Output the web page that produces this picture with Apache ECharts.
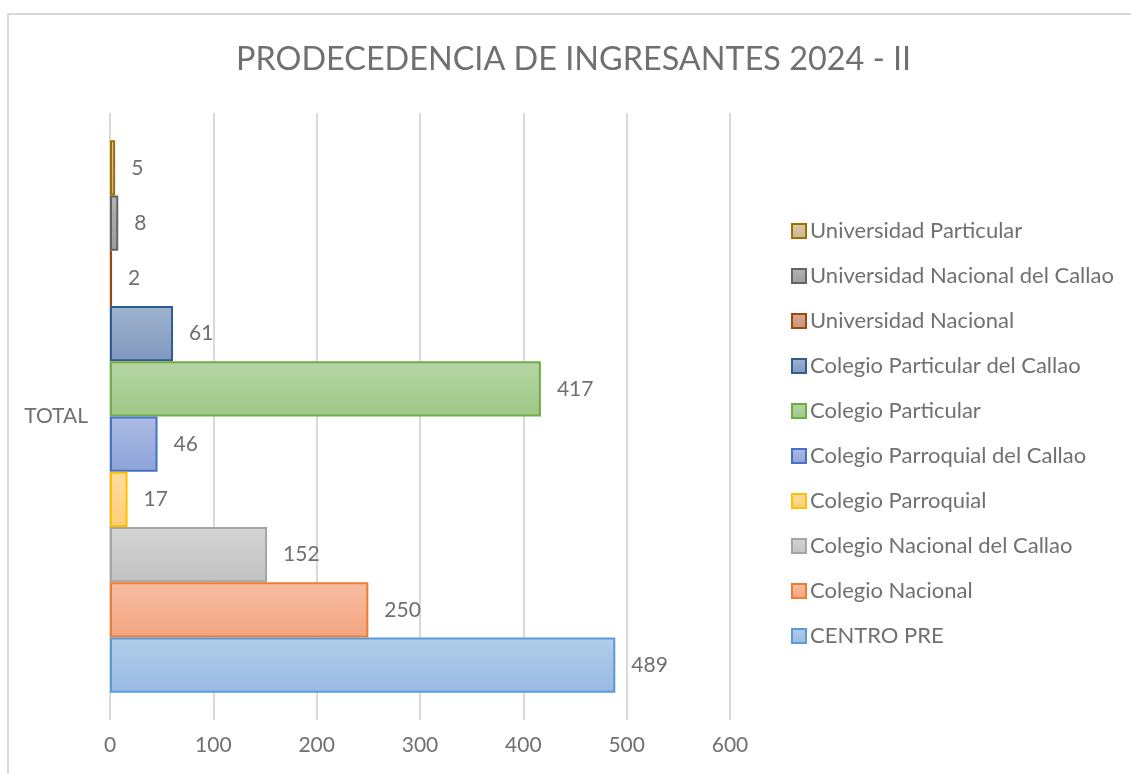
<!DOCTYPE html>
<html>
<head>
<meta charset="utf-8">
<script src="https://cdn.jsdelivr.net/npm/echarts@6/dist/echarts.min.js"></script>
<style>
html,body{margin:0;padding:0;background:#fff;}
#chart{width:1131px;height:774px;}
</style>
</head>
<body>
<div id="chart"></div>
<script>
// Data (top-to-bottom order as drawn)
const categories = ['TOTAL'];
const seriesNames = [
  'Universidad Particular',
  'Universidad Nacional del Callao',
  'Universidad Nacional',
  'Colegio Particular del Callao',
  'Colegio Particular',
  'Colegio Parroquial del Callao',
  'Colegio Parroquial',
  'Colegio Nacional del Callao',
  'Colegio Nacional',
  'CENTRO PRE'
];
const seriesValues = [5, 8, 2, 61, 417, 46, 17, 152, 250, 489];
const xTicks = [0, 100, 200, 300, 400, 500, 600];

// Styles
const fills = [
  ['#dcc8ae', '#cfb48f'],
  ['#b4b4b4', '#9c9c9c'],
  ['#d8a890', '#c99578'],
  ['#a0b3cf', '#7f98bd'],
  ['#b6d6a4', '#9ec786'],
  ['#acbbe4', '#8ea3da'],
  ['#ffdc9e', '#ffcf78'],
  ['#d4d4d4', '#c2c2c2'],
  ['#f6bea4', '#f4a480'],
  ['#b3cdea', '#98bae3']
];
const borders = ['#997300', '#636363', '#9e480e', '#2e5e91', '#70ad47', '#4472c4', '#ffc000', '#a5a5a5', '#ed7d31', '#5b9bd5'];
const textColor = '#707070';
const fontFam = 'Lato, "Open Sans", sans-serif';

const chart = echarts.init(document.getElementById('chart'));
const series = seriesNames.map((name, i) => ({
  name: name,
  type: 'bar',
  data: [seriesValues[i]],
  barGap: '0%',
  barCategoryGap: '9%',
  itemStyle: {
    color: {type: 'linear', x: 0, y: 0, x2: 0, y2: 1,
      colorStops: [{offset: 0, color: fills[i][0]}, {offset: 1, color: fills[i][1]}]},
    borderColor: borders[i],
    borderWidth: 2
  },
  label: {
    show: true,
    position: 'right',
    distance: 16,
    color: textColor,
    fontSize: 21,
    fontFamily: fontFam
  },
  emphasis: {disabled: true}
}));

chart.setOption({
  animation: false,
  backgroundColor: '#fff',
  graphic: [{
    type: 'rect',
    shape: {x: 8, y: 14, width: 1300, height: 900},
    style: {fill: 'none', stroke: '#d9d9d9', lineWidth: 2},
    silent: true
  }],
  title: {
    text: 'PRODECEDENCIA DE INGRESANTES 2024 - II',
    left: 231,
    top: 39,
    textStyle: {color: textColor, fontSize: 32.4, fontWeight: 'normal', fontFamily: fontFam}
  },
  legend: {
    orient: 'vertical',
    left: 786,
    top: 215,
    itemWidth: 14,
    itemHeight: 14,
    itemGap: 23,
    icon: 'rect',
    data: seriesNames,
    textStyle: {color: textColor, fontSize: 22, fontFamily: fontFam, padding: [0, 0, 0, -1]}
  },
  grid: {left: 110, right: 401, top: 113, bottom: 54, containLabel: false},
  xAxis: {
    type: 'value',
    min: xTicks[0],
    max: xTicks[xTicks.length - 1],
    interval: 100,
    axisLine: {show: false},
    axisTick: {show: false},
    splitLine: {lineStyle: {color: '#d9d9d9', width: 2}},
    axisLabel: {color: textColor, fontSize: 21, fontFamily: fontFam, margin: 15}
  },
  yAxis: {
    type: 'category',
    data: categories,
    axisLine: {show: false},
    axisTick: {show: false},
    axisLabel: {color: textColor, fontSize: 21, fontFamily: fontFam, margin: 22}
  },
  series: series
});
</script>
</body>
</html>
